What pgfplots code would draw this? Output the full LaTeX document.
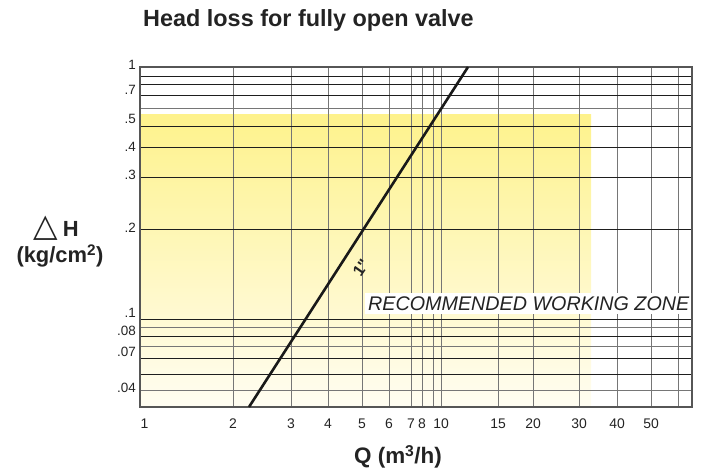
\documentclass[border=0pt]{standalone}
\usepackage{pgfplots}
\pgfplotsset{compat=1.18}
\usepackage{fontspec}
\setmainfont{Liberation Sans}
\newfontfamily\dejavu{DejaVu Sans}
\definecolor{ytop}{RGB}{254,242,140}
\definecolor{ybot}{RGB}{255,253,242}
\definecolor{gridd}{RGB}{30,30,30}
\definecolor{gridg}{RGB}{118,118,118}
\definecolor{txt}{RGB}{35,35,35}
\begin{document}
\begin{tikzpicture}
\path (0bp,0bp) rectangle (702bp,474bp);
\begin{axis}[
  set layers=standard,
  at={(140bp,67bp)}, anchor=south west,
  width=552bp, height=340bp, scale only axis,
  xmin=0, xmax=552, ymin=0, ymax=340,
  axis line style={draw=gridd!75, line width=1.1bp},
  major tick length=0pt, minor tick length=0pt,
  xtick={0,93,151,188,222,249,271,282,301,358,393,439,477,511},
  xticklabels={\hbox{\kern9bp 1},2,3,4,5,6,7,8,10,15,20,30,40,50},
  minor xtick={293,538},
  xmajorgrids=true, xminorgrids=true,
  major x grid style={gridg, line width=1bp},
  minor x grid style={gridg, line width=1bp},
  ytick={340,317,288.5,260,232,179,94.5,76,55,19.5},
  yticklabels={\raisebox{4bp}{1},.7,.5,.4,.3,.2,.1,.08,.07,.04},
  minor ytick={331,323,312,281,260,230,178,88,71,49,33},
  ymajorgrids=false, yminorgrids=true,
  minor y grid style={gridd, line width=0.9bp},
  extra y ticks={298,79,60,16},
  extra y tick labels={},
  extra y tick style={ymajorgrids=true, major y grid style={gridg, line width=1bp}},
  xticklabel style={font=\fontsize{14}{16}\selectfont, text=txt, anchor=north, inner sep=0pt, yshift=-12bp},
  yticklabel style={font=\fontsize{13.5}{16}\selectfont, text=txt, anchor=east, inner sep=0pt, xshift=-4bp},
  clip=false,
]
\addplot[draw=none, top color=ytop, bottom color=ybot, on layer=axis background]
  coordinates {(0,0) (451,0) (451,292) (0,292) (0,0)};
\addplot[black!90, line width=2.6bp] coordinates {(109,0) (328,340)};
\fill[white] (axis cs:225,93) rectangle (axis cs:551.4,114);
\node[anchor=base west, inner sep=0pt, text=txt, font=\fontsize{19.8}{22}\selectfont\itshape]
  at (axis cs:228,96) {RECOMMENDED WORKING ZONE};
\node[rotate=55, inner sep=0pt, text=txt, font=\fontsize{16}{18}\selectfont\bfseries]
  at (axis cs:221,139) {1\textquotedbl};
\end{axis}
\node[anchor=base west, inner sep=0pt, text=txt, font=\fontsize{23.5}{26}\selectfont\bfseries]
  at (143bp,447bp) {Head loss for fully open valve};
\node[inner sep=0pt, text=txt, font=\fontsize{22.5}{25}\selectfont\bfseries]
  at (398bp,17bp) {Q (m\textsuperscript{3}/h)};
\node[inner sep=0pt, text=txt, anchor=base]
  at (56bp,237bp) {{\dejavu\fontsize{32}{34}\selectfont △}\hspace{5bp}{\fontsize{22}{24}\selectfont\bfseries H}};
\node[inner sep=0pt, text=txt, font=\fontsize{22}{24}\selectfont\bfseries]
  at (60bp,218bp) {(kg/cm\textsuperscript{2})};
\end{tikzpicture}
\end{document}
